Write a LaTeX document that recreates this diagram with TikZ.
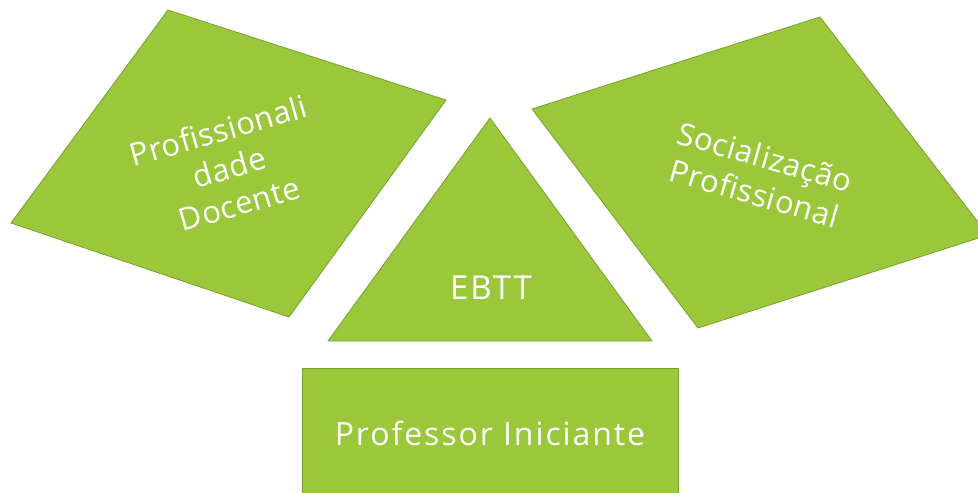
\documentclass[tikz,border=0pt]{standalone}
\usepackage{fontspec}
\setmainfont{Open Sans}
\newfontfamily\widesans[LetterSpace=6]{Open Sans}
\newfontfamily\midsans[LetterSpace=2]{Open Sans}
\definecolor{leaf}{RGB}{154,200,58}
\definecolor{leafedge}{RGB}{120,160,45}
\tikzset{
  shapefill/.style={fill=leaf,draw=leafedge,line width=0.8pt,line join=miter},
  label/.style={text=white,font=\midsans\fontsize{31}{38}\selectfont,align=center,inner sep=0pt}
}
\begin{document}
\begin{tikzpicture}[x=1pt,y=-1pt]
\useasboundingbox (0,0) rectangle (978,493);
\clip (0,0) rectangle (978,493);
% left parallelogram
\coordinate (lt) at (168,10);
\coordinate (lr) at (446,100);
\coordinate (lb) at (289,317);
\coordinate (ll) at (11,223);
\draw[shapefill] (lt) -- (lr) -- (lb) -- (ll) -- cycle;
% right parallelogram
\coordinate (rt) at (820,17);
\coordinate (rr) at (988,235);
\coordinate (rb) at (698,328);
\coordinate (rl) at (532,109);
\draw[shapefill] (rt) -- (rr) -- (rb) -- (rl) -- cycle;
% triangle
\coordinate (ta) at (490,118);
\coordinate (tr) at (652,341);
\coordinate (tl) at (328,341);
\draw[shapefill] (ta) -- (tr) -- (tl) -- cycle;
% rectangle
\draw[shapefill] (302,368) rectangle (678,500);
% labels
\node[label,rotate=16] (pd) at (229,167) {Profissionali\\dade\\Docente};
\node[label,rotate=-16] (sp) at (760,175) {Socialização\\Profissional};
\node[label,anchor=base,font=\widesans\fontsize{33}{38}\selectfont] (eb) at (491,299) {EBTT};
\node[label,anchor=base,font=\widesans\fontsize{32}{38}\selectfont] (pi) at (490,445) {Professor Iniciante};
\end{tikzpicture}
\end{document}
